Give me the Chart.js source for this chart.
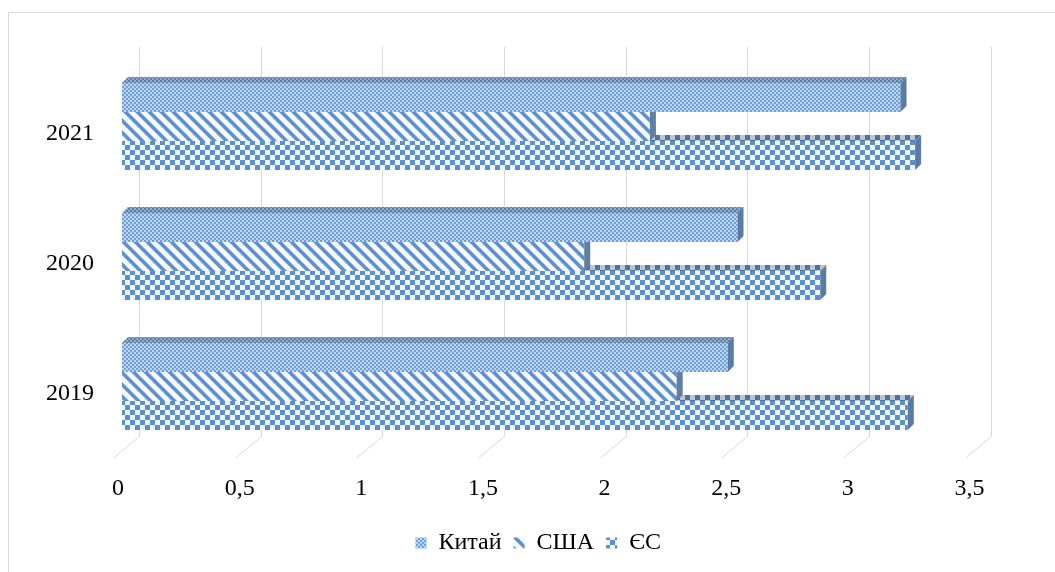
<!DOCTYPE html>
<html>
<head>
<meta charset="utf-8">
<style>
  html, body { margin: 0; padding: 0; background: #ffffff; }
  canvas { display: block; }
</style>
<script src="https://cdn.jsdelivr.net/npm/chart.js@4/dist/chart.umd.min.js"></script>
</head>
<body>
<canvas id="chart" width="1055" height="572"></canvas>
<script>
// Categories and series values
const years = ['2021', '2020', '2019'];
const seriesNames = ['Китай', 'США', 'ЄС'];
const china = [3.2, 2.53, 2.49];
const usa = [2.17, 1.9, 2.28];
const eu = [3.26, 2.87, 3.23];
const xTickValues = [0, 0.5, 1, 1.5, 2, 2.5, 3, 3.5];

const FONT = "'Liberation Serif', 'Times New Roman', serif";

// ---- pattern fills -------------------------------------------------------
function hexToRgb(h) {
  const n = parseInt(h.slice(1), 16);
  return [(n >> 16) & 255, (n >> 8) & 255, n & 255];
}
function makePattern(w, h, pixelColor) {
  const c = document.createElement('canvas');
  c.width = w; c.height = h;
  const g = c.getContext('2d');
  const img = g.createImageData(w, h);
  for (let j = 0; j < h; j++) {
    for (let i = 0; i < w; i++) {
      const [r, gg, b] = pixelColor(i, j);
      const k = (j * w + i) * 4;
      img.data[k] = r; img.data[k + 1] = gg; img.data[k + 2] = b; img.data[k + 3] = 255;
    }
  }
  g.putImageData(img, 0, 0);
  return g.createPattern(c, 'repeat');
}
function shade(rgb, f) { return rgb.map(v => Math.round(v * f)); }

// small checker (Китай)
function chinaPixel(f) {
  const dark = hexToRgb('#739fd6'), light = hexToRgb('#b8d7f7');
  return (i, j) => {
    const on = ((i >> 1) + (j >> 1)) % 2 === 0;
    return shade(on ? dark : light, f);
  };
}
// wide downward diagonal (США)
function usaPixel(f) {
  const blue = hexToRgb('#5f8fcc'), mid = hexToRgb('#a3c2e9'), white = hexToRgb('#f6faff');
  return (i, j) => {
    const d = (((i - j) % 12) + 12) % 12;
    const c = d < 4 ? blue : (d === 4 || d === 11 ? mid : white);
    return shade(c, f);
  };
}
// large checkerboard (ЄС)
function euPixel(f) {
  const blue = hexToRgb('#5d8fcf'), white = hexToRgb('#eef6ff');
  return (i, j) => {
    const on = (Math.floor(i / 5) + Math.floor(j / 5)) % 2 === 0;
    return shade(on ? blue : white, f);
  };
}

const fronts = [makePattern(4, 4, chinaPixel(1)), makePattern(12, 12, usaPixel(1)), makePattern(10, 10, euPixel(1))];
const tops = [makePattern(4, 4, chinaPixel(0.8)), makePattern(12, 12, usaPixel(0.78)), makePattern(10, 10, euPixel(0.8))];
const sides = ['#5a7ca4', '#5f7fa3', '#5a7ca4'];

// ---- 3D look: back wall grid, floor ticks, bar top and side faces ---------
const DEPTH = 6;
const WALL_DX = 17.5;
const LEGEND_SHIFT = 30.5;

const pseudo3d = {
  id: 'pseudo3d',
  afterLayout(chart) {
    // centre the legend under the plot rather than under the whole box
    const lg = chart.legend;
    if (lg) { lg.left += LEGEND_SHIFT; lg.right += LEGEND_SHIFT; }
  },
  beforeDraw(chart) {
    const ctx = chart.ctx;
    ctx.save();
    ctx.strokeStyle = '#d9d9d9';
    ctx.lineWidth = 1;
    ctx.strokeRect(8.5, 12.5, 1100, 600);
    ctx.restore();
  },
  beforeDatasetsDraw(chart) {
    const ctx = chart.ctx;
    const xs = chart.scales.x;
    const area = chart.chartArea;
    ctx.save();
    ctx.lineWidth = 1;
    xs.ticks.forEach(t => {
      const px = Math.round(xs.getPixelForValue(t.value));
      const bx = px + WALL_DX;
      ctx.strokeStyle = '#d9d9d9';
      ctx.beginPath();
      ctx.moveTo(bx, area.top - 14.5);
      ctx.lineTo(bx, area.bottom - 15);
      ctx.lineTo(px - 8.5, area.bottom + 6.5);
      ctx.stroke();
    });
    ctx.restore();
  },
  afterDatasetDraw(chart, args) {
    const ctx = chart.ctx;
    const idx = args.index;
    ctx.save();
    args.meta.data.forEach(el => {
      const p = el.getProps(['x', 'y', 'base', 'height'], true);
      const x0 = p.base, x1 = p.x;
      const y0 = p.y - p.height / 2, y1 = p.y + p.height / 2;
      // top face
      ctx.fillStyle = tops[idx];
      ctx.beginPath();
      ctx.moveTo(x0, y0);
      ctx.lineTo(x0 + DEPTH, y0 - DEPTH);
      ctx.lineTo(x1 + DEPTH, y0 - DEPTH);
      ctx.lineTo(x1, y0);
      ctx.closePath();
      ctx.fill();
      // right face
      ctx.fillStyle = sides[idx];
      ctx.beginPath();
      ctx.moveTo(x1, y0);
      ctx.lineTo(x1 + DEPTH, y0 - DEPTH);
      ctx.lineTo(x1 + DEPTH, y1 - DEPTH);
      ctx.lineTo(x1, y1);
      ctx.closePath();
      ctx.fill();
    });
    ctx.restore();
  }
};

const datasets = [china, usa, eu].map((vals, i) => ({
  label: seriesNames[i],
  data: vals,
  backgroundColor: fronts[i],
  borderWidth: 0,
  categoryPercentage: 0.67,
  barPercentage: 1.0
}));

new Chart(document.getElementById('chart'), {
  type: 'bar',
  data: { labels: years, datasets },
  options: {
    indexAxis: 'y',
    responsive: false,
    animation: false,
    devicePixelRatio: 1,
    layout: { padding: { left: 42, right: 81.5, top: 61.5, bottom: 7 } },
    scales: {
      x: {
        type: 'linear',
        min: 0,
        max: 3.5,
        afterBuildTicks(scale) { scale.ticks = xTickValues.map(v => ({ value: v })); },
        afterFit(scale) { scale.height = 67.5; },
        grid: { display: false, drawTicks: false },
        border: { display: false },
        ticks: {
          color: '#000',
          font: { family: FONT, size: 24 },
          padding: 23,
          labelOffset: -4,
          callback: v => String(v).replace('.', ',')
        }
      },
      y: {
        afterFit(scale) { scale.width = 80; },
        grid: { display: false, drawTicks: false },
        border: { display: false },
        ticks: {
          color: '#000',
          font: { family: FONT, size: 24 },
          padding: 28,
          labelOffset: 7
        }
      }
    },
    plugins: {
      legend: {
        position: 'bottom',
        labels: {
          color: '#000',
          font: { family: FONT, size: 24 },
          boxWidth: 11,
          boxHeight: 11,
          padding: 12
        }
      },
      tooltip: { enabled: false }
    }
  },
  plugins: [pseudo3d]
});
</script>
</body>
</html>
